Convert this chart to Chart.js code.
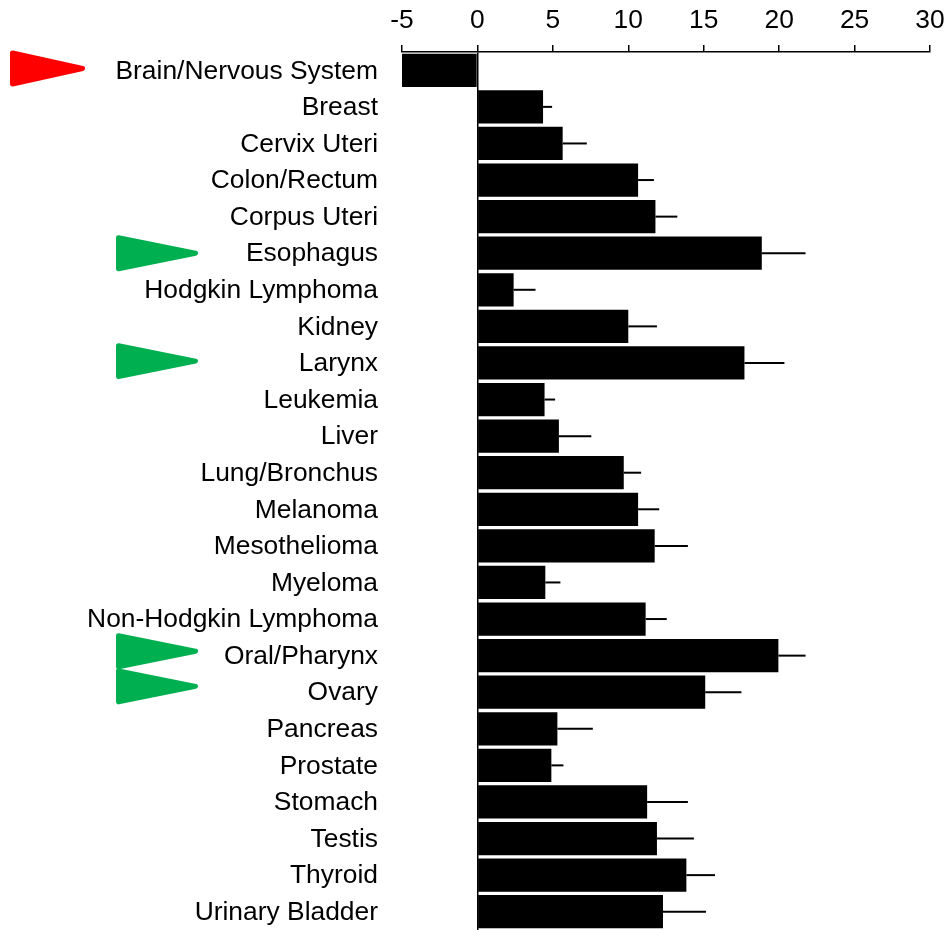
<!DOCTYPE html>
<html>
<head>
<meta charset="utf-8">
<style>html,body{margin:0;padding:0;background:#fff}canvas{display:block}</style>
<script src="https://cdn.jsdelivr.net/npm/chart.js@4"></script>
</head>
<body>
<canvas id="c" width="947" height="930"></canvas>
<script>
const categories = ["Brain/Nervous System","Breast","Cervix Uteri","Colon/Rectum","Corpus Uteri","Esophagus","Hodgkin Lymphoma","Kidney","Larynx","Leukemia","Liver","Lung/Bronchus","Melanoma","Mesothelioma","Myeloma","Non-Hodgkin Lymphoma","Oral/Pharynx","Ovary","Pancreas","Prostate","Stomach","Testis","Thyroid","Urinary Bladder"];
const values = [-5,4.35,5.65,10.65,11.8,18.85,2.4,10,17.7,4.45,5.4,9.7,10.65,11.75,4.5,11.15,19.95,15.1,5.3,4.9,11.25,11.9,13.85,12.3];
const whiskerEnds = [null,4.95,7.25,11.7,13.25,21.75,3.85,11.9,20.35,5.15,7.55,10.85,12.05,13.95,5.5,12.55,21.75,17.5,7.65,5.7,13.95,14.35,15.75,15.15];
const redArrowRows = [-0.05];
const greenArrowRows = [5,7.95,15.88,16.84];

const overlay = {
  id:'overlay',
  beforeDraw(chart){
    chart.scales.y.getLabelItems().forEach(item=>{ if(!item.shifted){ item.textOffset+=1; item.shifted=true; } });
  },
  afterDatasetsDraw(chart){
    const {ctx,scales:{x,y},chartArea} = chart;
    ctx.save();
    ctx.strokeStyle='#000'; ctx.lineWidth=2;
    whiskerEnds.forEach((w,i)=>{
      if(w===null) return;
      const py=y.getPixelForValue(i);
      ctx.beginPath(); ctx.moveTo(x.getPixelForValue(values[i]),py); ctx.lineTo(x.getPixelForValue(w),py); ctx.stroke();
    });
    const arrow=(row,left,right,color)=>{
      const py=y.getPixelForValue(row);
      ctx.fillStyle=color; ctx.strokeStyle=color; ctx.lineWidth=5; ctx.lineJoin='round';
      ctx.beginPath(); ctx.moveTo(left,py-15.5); ctx.lineTo(right,py); ctx.lineTo(left,py+15.5); ctx.closePath();
      ctx.fill(); ctx.stroke();
    };
    const a=chartArea.left;
    redArrowRows.forEach(r=>arrow(r,a-389.5,a-319.5,'#ff0000'));
    greenArrowRows.forEach(r=>arrow(r,a-283.5,a-206.5,'#00b050'));
    ctx.restore();
  }
};

new Chart(document.getElementById('c'),{
  type:'bar',
  data:{labels:categories,datasets:[{data:values,backgroundColor:'#000',borderWidth:0,categoryPercentage:1,barPercentage:0.91}]},
  options:{
    indexAxis:'y',responsive:false,animation:false,
    layout:{autoPadding:false,padding:{left:0,right:17,top:0,bottom:0}},
    plugins:{legend:{display:false},tooltip:{enabled:false}},
    scales:{
      x:{position:'top',min:-5,max:30,
        afterFit(s){s.height=52;s.paddingLeft=0;s.paddingRight=0;},
        border:{display:true,color:'#000',width:1.5,z:1},
        grid:{z:1,drawOnChartArea:true,drawTicks:true,tickLength:7,lineWidth:1.5,tickColor:'#000',
          color:c=>c.tick&&c.tick.value===0?'#000':'transparent'},
        ticks:{stepSize:5,maxRotation:0,autoSkip:false,padding:8,color:'#000',font:{family:'"Liberation Sans"',size:26.4}}
      },
      y:{position:'left',offset:true,
        afterFit(s){s.width=402;s.paddingTop=0;s.paddingBottom=0;},
        border:{display:false},
        grid:{display:false,drawTicks:false},
        ticks:{autoSkip:false,padding:24,color:'#000',font:{family:'"Liberation Sans"',size:26.4}}
      }
    }
  },
  plugins:[overlay]
});
</script>
</body>
</html>
